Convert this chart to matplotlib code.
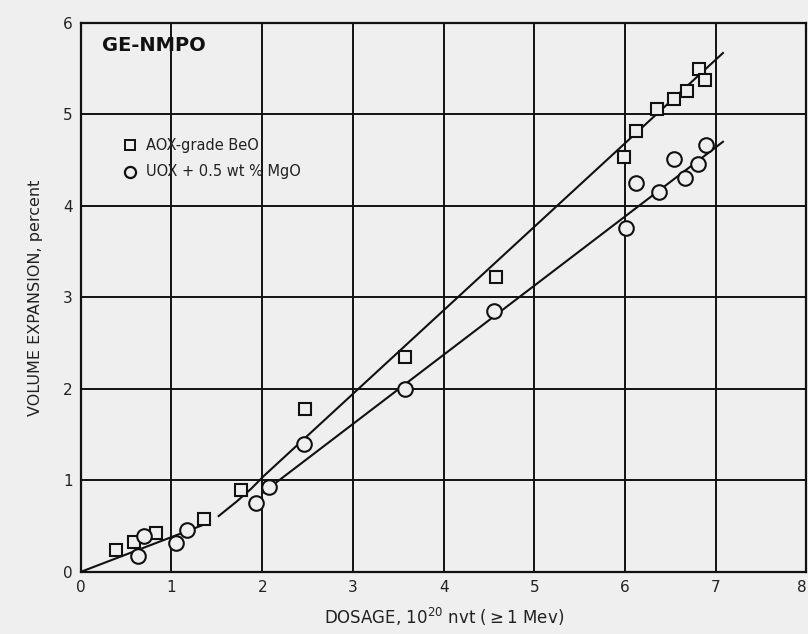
import matplotlib
matplotlib.use("Agg")
import matplotlib.pyplot as plt

# AOX-grade BeO (squares)
aox_x = [0.39, 0.59, 0.83, 1.36, 1.77, 2.47, 3.57, 4.58, 5.99, 6.12, 6.35, 6.54, 6.68, 6.82, 6.88]
aox_y = [0.24, 0.33, 0.42, 0.58, 0.89, 1.78, 2.35, 3.22, 4.53, 4.82, 5.06, 5.17, 5.25, 5.49, 5.38]

# UOX + 0.5 wt % MgO (circles)
uox_x = [0.63, 0.70, 1.05, 1.17, 1.93, 2.08, 2.46, 3.58, 4.56, 6.01, 6.12, 6.37, 6.54, 6.66, 6.81, 6.89]
uox_y = [0.17, 0.39, 0.32, 0.46, 0.75, 0.93, 1.40, 2.00, 2.85, 3.76, 4.25, 4.15, 4.51, 4.30, 4.46, 4.66]

# fitted curves
fit_a1_x = [0.0, 1.42]
fit_a1_y = [0.0, 0.54]
fit_a2_x = [1.52, 1.72, 1.88, 2.02, 7.08]
fit_a2_y = [0.61, 0.77, 0.91, 1.05, 5.67]
fit_u_x = [2.0, 7.08]
fit_u_y = [0.86, 4.70]

x_ticks = [0, 1, 2, 3, 4, 5, 6, 7, 8]
y_ticks = [0, 1, 2, 3, 4, 5, 6]

bg = "#efefef"
fig = plt.figure(figsize=(8.08, 6.34), dpi=100, facecolor=bg)
ax = fig.add_axes([0.100, 0.098, 0.898, 0.866])
ax.set_facecolor(bg)

ax.set_xlim(0, 8)
ax.set_ylim(0, 6)
ax.set_xticks(x_ticks)
ax.set_yticks(y_ticks)
ax.set_xticklabels([str(t) for t in x_ticks])
ax.set_yticklabels([str(t) for t in y_ticks])
ax.grid(True, color="#111111", linewidth=1.4)
ax.set_axisbelow(True)
ax.tick_params(length=0, labelsize=11, colors="#222222", pad=6)
ax.get_xticklabels()[-1].set_horizontalalignment("right")
for s in ax.spines.values():
    s.set_color("#111111")
    s.set_linewidth(1.6)

lw = 1.5
ax.plot(fit_a1_x, fit_a1_y, color="#111111", lw=lw, zorder=3)
ax.plot(fit_a2_x, fit_a2_y, color="#111111", lw=lw, zorder=3)
ax.plot(fit_u_x, fit_u_y, color="#111111", lw=lw, zorder=3)

ax.plot(aox_x, aox_y, linestyle="none", marker="s", markersize=9, markerfacecolor=bg,
        markeredgecolor="#111111", markeredgewidth=1.5, zorder=4, clip_on=False)
ax.plot(uox_x, uox_y, linestyle="none", marker="o", markersize=10.5, markerfacecolor=bg,
        markeredgecolor="#111111", markeredgewidth=1.5, zorder=4, clip_on=False)

# legend drawn manually
ax.plot([0.54], [4.66], linestyle="none", marker="s", markersize=7, markerfacecolor=bg,
        markeredgecolor="#111111", markeredgewidth=1.4, zorder=4)
ax.plot([0.54], [4.37], linestyle="none", marker="o", markersize=8, markerfacecolor=bg,
        markeredgecolor="#111111", markeredgewidth=1.6, zorder=4)
ax.text(0.72, 4.66, "AOX-grade BeO", fontsize=10.5, va="center", ha="left", color="#222222", zorder=5)
ax.text(0.72, 4.37, "UOX + 0.5 wt % MgO", fontsize=10.5, va="center", ha="left", color="#222222", zorder=5)

ax.text(0.23, 5.75, "GE-NMPO", fontsize=14, fontweight="bold", va="center", ha="left", color="#111111", zorder=5)

ax.set_xlabel(r"DOSAGE, 10$^{20}$ nvt ($\geq$1 Mev)", fontsize=12, color="#222222", labelpad=8)
ax.set_ylabel("VOLUME EXPANSION, percent", fontsize=11.5, color="#222222", labelpad=14)

fig.savefig("out.png", dpi=100, facecolor=bg)
